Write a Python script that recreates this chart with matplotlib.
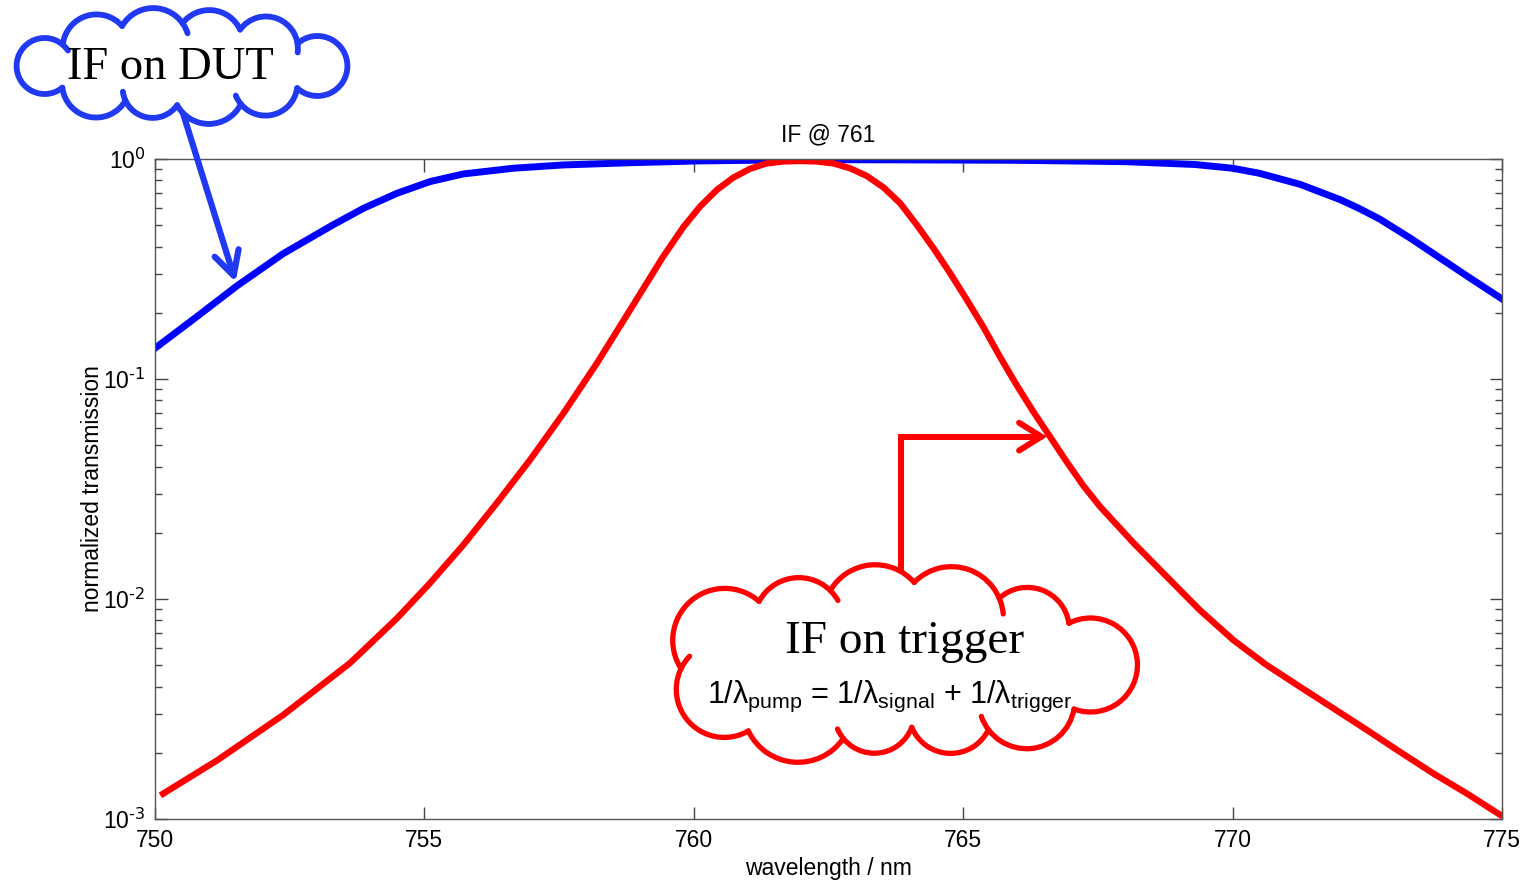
import numpy as np
import matplotlib.pyplot as plt
from matplotlib.patches import Circle, Arc, Polygon, FancyArrowPatch
from matplotlib.path import Path
from matplotlib.ticker import NullLocator, FuncFormatter

plt.rcParams['font.family'] = ['Liberation Sans', 'DejaVu Sans']
plt.rcParams['axes.unicode_minus'] = False
plt.rcParams['mathtext.default'] = 'regular'

# --- filter transmission curves (wavelength in nm, normalized transmission) ---
dut_wl = [750.0, 750.71, 751.52, 752.38, 753.3, 753.87, 754.49, 755.1, 755.72, 756.65,
          757.58, 758.82, 760.05, 762.0, 764.0, 766.0, 768.0, 769.3, 770.0, 770.5,
          771.25, 772.0, 772.35, 772.73, 773.3, 773.85, 774.4, 775.0]
dut_tr = [0.1380, 0.1866, 0.2649, 0.3715, 0.5012, 0.5970, 0.6982, 0.7889, 0.8551, 0.9078,
          0.9397, 0.9616, 0.9795, 0.9931, 0.9908, 0.9863, 0.9727, 0.9441, 0.9078, 0.8610,
          0.7674, 0.6531, 0.5957, 0.5333, 0.4365, 0.3548, 0.2884, 0.2312]

trig_wl = [750.15, 751.15, 752.38, 753.62, 754.49, 755.1, 755.72, 756.34, 756.96, 757.58,
           758.2, 758.82, 759.43, 759.81, 760.12, 760.43, 760.73, 761.04, 761.35, 761.66,
           761.97, 762.28, 762.59, 762.9, 763.21, 763.52, 763.83, 764.14, 764.45, 764.76,
           765.07, 765.37, 765.68, 765.99, 766.3, 766.61, 766.92, 767.23, 767.54, 768.16,
           768.78, 769.39, 770.01, 770.63, 771.25, 771.87, 772.49, 773.1, 773.72, 774.34,
           774.96]
trig_tr = [0.001303, 0.001845, 0.002972, 0.005117, 0.008166, 0.01178, 0.01758, 0.02723, 0.04286, 0.06982,
           0.1178, 0.2065, 0.3598, 0.4920, 0.6095, 0.7244, 0.8222, 0.9016, 0.9550, 0.9750,
           0.9795, 0.9750, 0.9550, 0.9078, 0.8375, 0.7430, 0.6295, 0.5012, 0.3926, 0.3020,
           0.2286, 0.1730, 0.1265, 0.09397, 0.07112, 0.05470, 0.04207, 0.03273, 0.02630, 0.01799,
           0.01262, 0.008913, 0.006516, 0.005012, 0.003990, 0.003184, 0.002541, 0.002023, 0.001614, 0.001309,
           0.001047]

x_ticks = [750, 755, 760, 765, 770, 775]

BLUE = '#0000ff'
RED = '#ff0000'
NOTE_BLUE = '#2139f3'
W, H = 1533, 881


def circle_cross(c0, r0, c1, r1):
    d_vec = c1 - c0
    d = np.hypot(*d_vec)
    a = (r0 ** 2 - r1 ** 2 + d ** 2) / (2 * d)
    h = np.sqrt(max(r0 ** 2 - a ** 2, 0.0))
    p = c0 + a * d_vec / d
    off = np.array([-d_vec[1], d_vec[0]]) * h / d
    return p + off, p - off


def draw_cloud(ov, cx, cy, hw, hh, radii, color, lw, hooks, z=5):
    """Scalloped cloud outline made of circular bumps around an ellipse."""
    n = len(radii)
    rm = float(np.mean(radii))
    a, b = hw - rm, hh - rm
    t = np.linspace(0, 2 * np.pi, 1440, endpoint=False)
    ex, ey = a * np.cos(t), b * np.sin(t)
    seg = np.hypot(np.diff(ex, append=ex[0]), np.diff(ey, append=ey[0]))
    s = np.concatenate([[0], np.cumsum(seg)[:-1]])
    idx = np.clip(np.searchsorted(s, np.arange(n) * seg.sum() / n), 0, len(t) - 1)
    centers = np.column_stack([cx + ex[idx], cy + ey[idx]])
    mid = np.array([cx, cy])

    ov.add_patch(Polygon(centers, closed=True, fc='white', ec='none', zorder=z))
    for c, r in zip(centers, radii):
        ov.add_patch(Circle(c, r, fc='white', ec='none', zorder=z))

    def outer(p, q):
        return p if np.hypot(*(p - mid)) > np.hypot(*(q - mid)) else q

    def dist_at(c, r, ang):
        pt = c + r * np.array([np.cos(np.radians(ang)), np.sin(np.radians(ang))])
        return np.hypot(*(pt - mid))

    for i in range(n):
        c, r = centers[i], radii[i]
        pp = outer(*circle_cross(c, r, centers[i - 1], radii[i - 1]))
        pn = outer(*circle_cross(c, r, centers[(i + 1) % n], radii[(i + 1) % n]))
        tp = np.degrees(np.arctan2(pp[1] - c[1], pp[0] - c[0]))
        tn = np.degrees(np.arctan2(pn[1] - c[1], pn[0] - c[0]))
        m1 = tp + ((tn - tp) % 360) / 2
        m2 = tn + ((tp - tn) % 360) / 2
        ext = hooks[i]
        if dist_at(c, r, m1) >= dist_at(c, r, m2):
            t1, t2 = tp, tp + (tn - tp) % 360 + ext
        else:
            t1, t2 = tn - ext, tn + (tp - tn) % 360
        ov.add_patch(Arc(c, 2 * r, 2 * r, theta1=t1, theta2=t2, color=color,
                         lw=lw, capstyle='round', zorder=z + 1))


def log_label(v, pos):
    e = int(round(np.log10(v)))
    return r'$\mathregular{10^{\text{%d}}}$' % e


fig = plt.figure(figsize=(W / 100, H / 100), dpi=100)
ax = fig.add_axes([155 / W, 1 - 819 / H, (1502 - 155) / W, (819 - 159) / H])

ax.semilogy(dut_wl, dut_tr, color=BLUE, lw=5)
ax.semilogy(trig_wl, trig_tr, color=RED, lw=4.6)

ax.set_xlim(750, 775)
ax.set_ylim(1e-3, 1)
ax.set_xticks(x_ticks)
ax.xaxis.set_minor_locator(NullLocator())
ax.yaxis.set_major_formatter(FuncFormatter(log_label))
ax.tick_params(which='both', direction='in', top=True, right=True, color='#444444',
               labelsize=16.5, pad=7)
ax.tick_params(which='major', length=9, width=1)
ax.tick_params(which='minor', length=5, width=1)
for sp in ax.spines.values():
    sp.set_color('#555555')
    sp.set_linewidth(1)

ax.set_title('IF @ 761', fontsize=16.5, pad=13)
ax.set_xlabel('wavelength / nm', fontsize=16.5, labelpad=4)
ax.set_ylabel('normalized transmission', fontsize=16.5, labelpad=-1)

# overlay in figure pixels (y downwards) for the call-out clouds
ov = fig.add_axes([0, 0, 1, 1], zorder=10)
ov.set_xlim(0, W)
ov.set_ylim(H, 0)
ov.axis('off')


def to_overlay(x, y):
    disp = ax.transData.transform((x, y))
    return ov.transData.inverted().transform(disp)


# DUT filter call-out
tip_b = to_overlay(dut_wl[2], dut_tr[2])
ov.add_patch(FancyArrowPatch((182, 110), tip_b, arrowstyle='->,head_length=17,head_width=9',
                             color=NOTE_BLUE, lw=4.5, capstyle='round', joinstyle='round',
                             shrinkA=0, shrinkB=3, zorder=3))
draw_cloud(ov, 181, 66, 169, 55, [30, 32, 36, 30, 34, 28, 34, 36, 34, 32],
           NOTE_BLUE, 4.2, [0, 18, 0, 18, 0, 16, 0, 18, 0, 16])
ov.text(170, 68, 'IF on DUT', fontsize=33.5, family='Liberation Serif',
        ha='center', va='center', zorder=8)

# trigger filter call-out
tip_r = to_overlay(trig_wl[35], trig_tr[35])
elbow = Path([(901, 600), (901, tip_r[1]), (tip_r[0] - 3, tip_r[1])])
ov.add_patch(FancyArrowPatch(path=elbow, arrowstyle='->,head_length=16,head_width=10',
                             color=RED, lw=4.3, capstyle='round', joinstyle='miter',
                             zorder=3))
draw_cloud(ov, 894, 665, 244, 96, [47, 48, 42, 40, 55, 48, 52, 45, 52, 52, 42],
           RED, 3.8, [0, 18, 0, 16, 0, 18, 0, 16, 0, 18, 0])
ov.text(905, 642, 'IF on trigger', fontsize=34, family='Liberation Serif',
        ha='center', va='center', zorder=8)
ov.text(890, 696, r'1/λ$_{pump}$ = 1/λ$_{signal}$ + 1/λ$_{trigger}$', fontsize=22,
        ha='center', va='center', zorder=8)

fig.savefig('out.png', dpi=100)
